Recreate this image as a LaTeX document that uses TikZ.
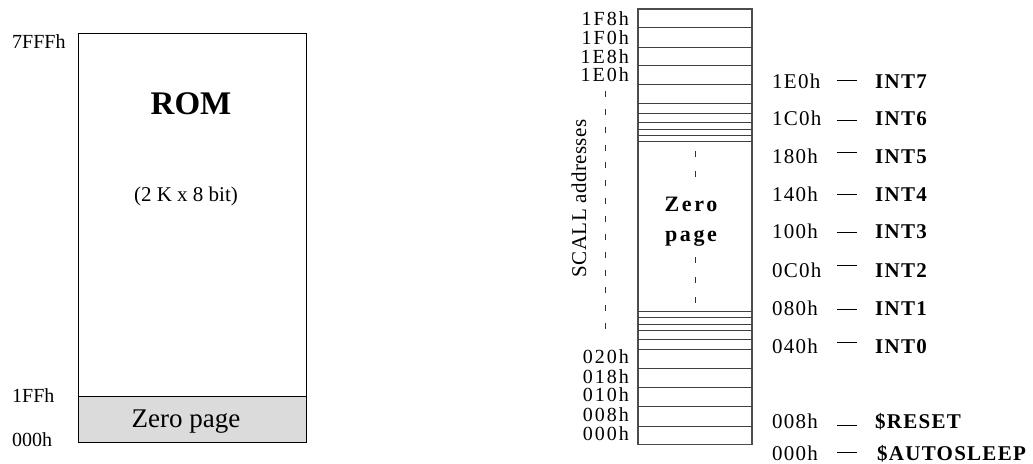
\documentclass[tikz,border=0pt]{standalone}
\usepackage{fontspec}
\setmainfont{Liberation Serif}
\newfontfamily\addrfont[LetterSpace=6]{Liberation Serif}
\newfontfamily\rowfont[LetterSpace=10]{Liberation Serif}
\newfontfamily\zerofont[LetterSpace=12]{Liberation Serif}
\newfontfamily\scallfont[LetterSpace=2]{Liberation Serif}

\begin{document}
\begin{tikzpicture}[x=1pt,y=-1pt,line cap=butt]
    \tikzset{
        lbl/.style={inner sep=0pt,font=\fontsize{20}{24}\selectfont},
        addr/.style={inner sep=0pt,font=\addrfont\fontsize{21}{24}\selectfont},
        rowaddr/.style={inner sep=0pt,anchor=base east,font=\rowfont\fontsize{20}{20}\selectfont},
        intname/.style={inner sep=0pt,font=\addrfont\bfseries\fontsize{21}{24}\selectfont},
        row/.style={black!75,line width=0.9pt},
        tick/.style={line width=0.8pt},
        guide/.style={black!80,line width=0.8pt,dash pattern=on 6pt off 11.85pt}
    }
    \useasboundingbox (0,0) rectangle (1033,463);

    % ROM
    \filldraw[fill=black!14,line width=0.9pt] (78,396) rectangle (306,442);
    \draw[line width=0.9pt] (78,33.5) rectangle (306,442);
    \node[inner sep=0pt,anchor=base,font=\bfseries\fontsize{33}{38}\selectfont] (rom) at (191,114) {ROM};
    \node[inner sep=0pt,anchor=base,font=\fontsize{21}{25}\selectfont] (size) at (186,201) {(2 K x 8 bit)};
    \node[inner sep=0pt,anchor=base,font=\fontsize{27}{32}\selectfont] (zp) at (186,427) {Zero page};
    \node[lbl,anchor=base west] (top) at (12,48.3) {7FFFh};
    \node[lbl,anchor=base west] (zptop) at (12,402) {1FFh};
    \node[lbl,anchor=base west] (zpbot) at (12,446) {000h};

    % zero page rows
    \draw[black!70,line width=1.4pt] (638,9) rectangle (752,444.3);
    \draw[row] (638,27.7) -- (752,27.7) (638,47) -- (752,47) (638,65.7) -- (752,65.7)
        (638,84.3) -- (752,84.3) (638,103.7) -- (752,103.7) (638,113.3) -- (752,113.3)
        (638,122.7) -- (752,122.7) (638,129) -- (752,129) (638,135.3) -- (752,135.3)
        (638,141.7) -- (752,141.7);
    \draw[row] (638,311) -- (752,311) (638,317.7) -- (752,317.7) (638,324) -- (752,324)
        (638,330) -- (752,330) (638,339.3) -- (752,339.3) (638,349) -- (752,349)
        (638,368.3) -- (752,368.3) (638,387.3) -- (752,387.3) (638,406.3) -- (752,406.3)
        (638,426) -- (752,426);

    \node[rowaddr] (r1f8) at (629,25) {1F8h};
    \node[rowaddr] (r1f0) at (629,44.5) {1F0h};
    \node[rowaddr] (r1e8) at (629,63.3) {1E8h};
    \node[rowaddr] (r1e0) at (629,81.7) {1E0h};
    \node[rowaddr] (r020) at (629,363.3) {020h};
    \node[rowaddr] (r018) at (629,383.3) {018h};
    \node[rowaddr] (r010) at (629,401.7) {010h};
    \node[rowaddr] (r008) at (629,421.7) {008h};
    \node[rowaddr] (r000) at (629,440) {000h};

    \draw[guide] (605,91) -- (605,329);
    \node[inner sep=0pt,rotate=90,font=\scallfont\fontsize{21}{24}\selectfont] (scall) at (579,198.5)
        {SCALL addresses};

    \node[inner sep=0pt,align=center,font=\zerofont\bfseries\fontsize{22}{30}\selectfont] (zero) at (691,222)
        {Zero\\page};
    \draw[guide,dash pattern=on 6pt off 14pt] (695,151) -- (695,180);
    \draw[guide,dash pattern=on 6pt off 14pt] (695,257) -- (695,303);

    % vectors
    \node[addr,anchor=base west] (a7) at (772,88) {1E0h};
    \node[addr,anchor=base west] (a6) at (772,125.5) {1C0h};
    \node[addr,anchor=base west] (a5) at (772,163) {180h};
    \node[addr,anchor=base west] (a4) at (772,201.5) {140h};
    \node[addr,anchor=base west] (a3) at (772,238.5) {100h};
    \node[addr,anchor=base west] (a2) at (772,277.5) {0C0h};
    \node[addr,anchor=base west] (a1) at (772,315.5) {080h};
    \node[addr,anchor=base west] (a0) at (772,353.5) {040h};
    \node[addr,anchor=base west] (ares) at (772,428.5) {008h};
    \node[addr,anchor=base west] (asl) at (772,460) {000h};

    \node[intname,anchor=base west] (i7) at (875,88) {INT7};
    \node[intname,anchor=base west] (i6) at (875,125.5) {INT6};
    \node[intname,anchor=base west] (i5) at (875,163) {INT5};
    \node[intname,anchor=base west] (i4) at (875,201.5) {INT4};
    \node[intname,anchor=base west] (i3) at (875,238.5) {INT3};
    \node[intname,anchor=base west] (i2) at (875,277.5) {INT2};
    \node[intname,anchor=base west] (i1) at (875,315.5) {INT1};
    \node[intname,anchor=base west] (i0) at (875,353.5) {INT0};
    \node[intname,anchor=base west] (ires) at (875,428.5) {\$RESET};
    \node[intname,anchor=base west] (isl) at (877,460) {\$AUTOSLEEP};

    \draw[tick] ([shift={(65,-7.3)}]a7.base west) -- ([shift={(-18,-7.3)}]i7.base west);
    \draw[tick] ([shift={(65,-5.5)}]a6.base west) -- ([shift={(-18,-5.5)}]i6.base west);
    \draw[tick] ([shift={(65,-10.3)}]a5.base west) -- ([shift={(-18,-10.3)}]i5.base west);
    \draw[tick] ([shift={(65,-7.5)}]a4.base west) -- ([shift={(-18,-7.5)}]i4.base west);
    \draw[tick] ([shift={(65,-6.2)}]a3.base west) -- ([shift={(-18,-6.2)}]i3.base west);
    \draw[tick] ([shift={(65,-12)}]a2.base west) -- ([shift={(-18,-12)}]i2.base west);
    \draw[tick] ([shift={(65,-6)}]a1.base west) -- ([shift={(-18,-6)}]i1.base west);
    \draw[tick] ([shift={(65,-11)}]a0.base west) -- ([shift={(-18,-11)}]i0.base west);
    \draw[tick] ([shift={(65,-3.5)}]ares.base west) -- ([shift={(-18,-3.5)}]ires.base west);
    \draw[tick] ([shift={(65,-7.5)}]asl.base west) -- ([shift={(-20,-7.5)}]isl.base west);
\end{tikzpicture}
\end{document}
